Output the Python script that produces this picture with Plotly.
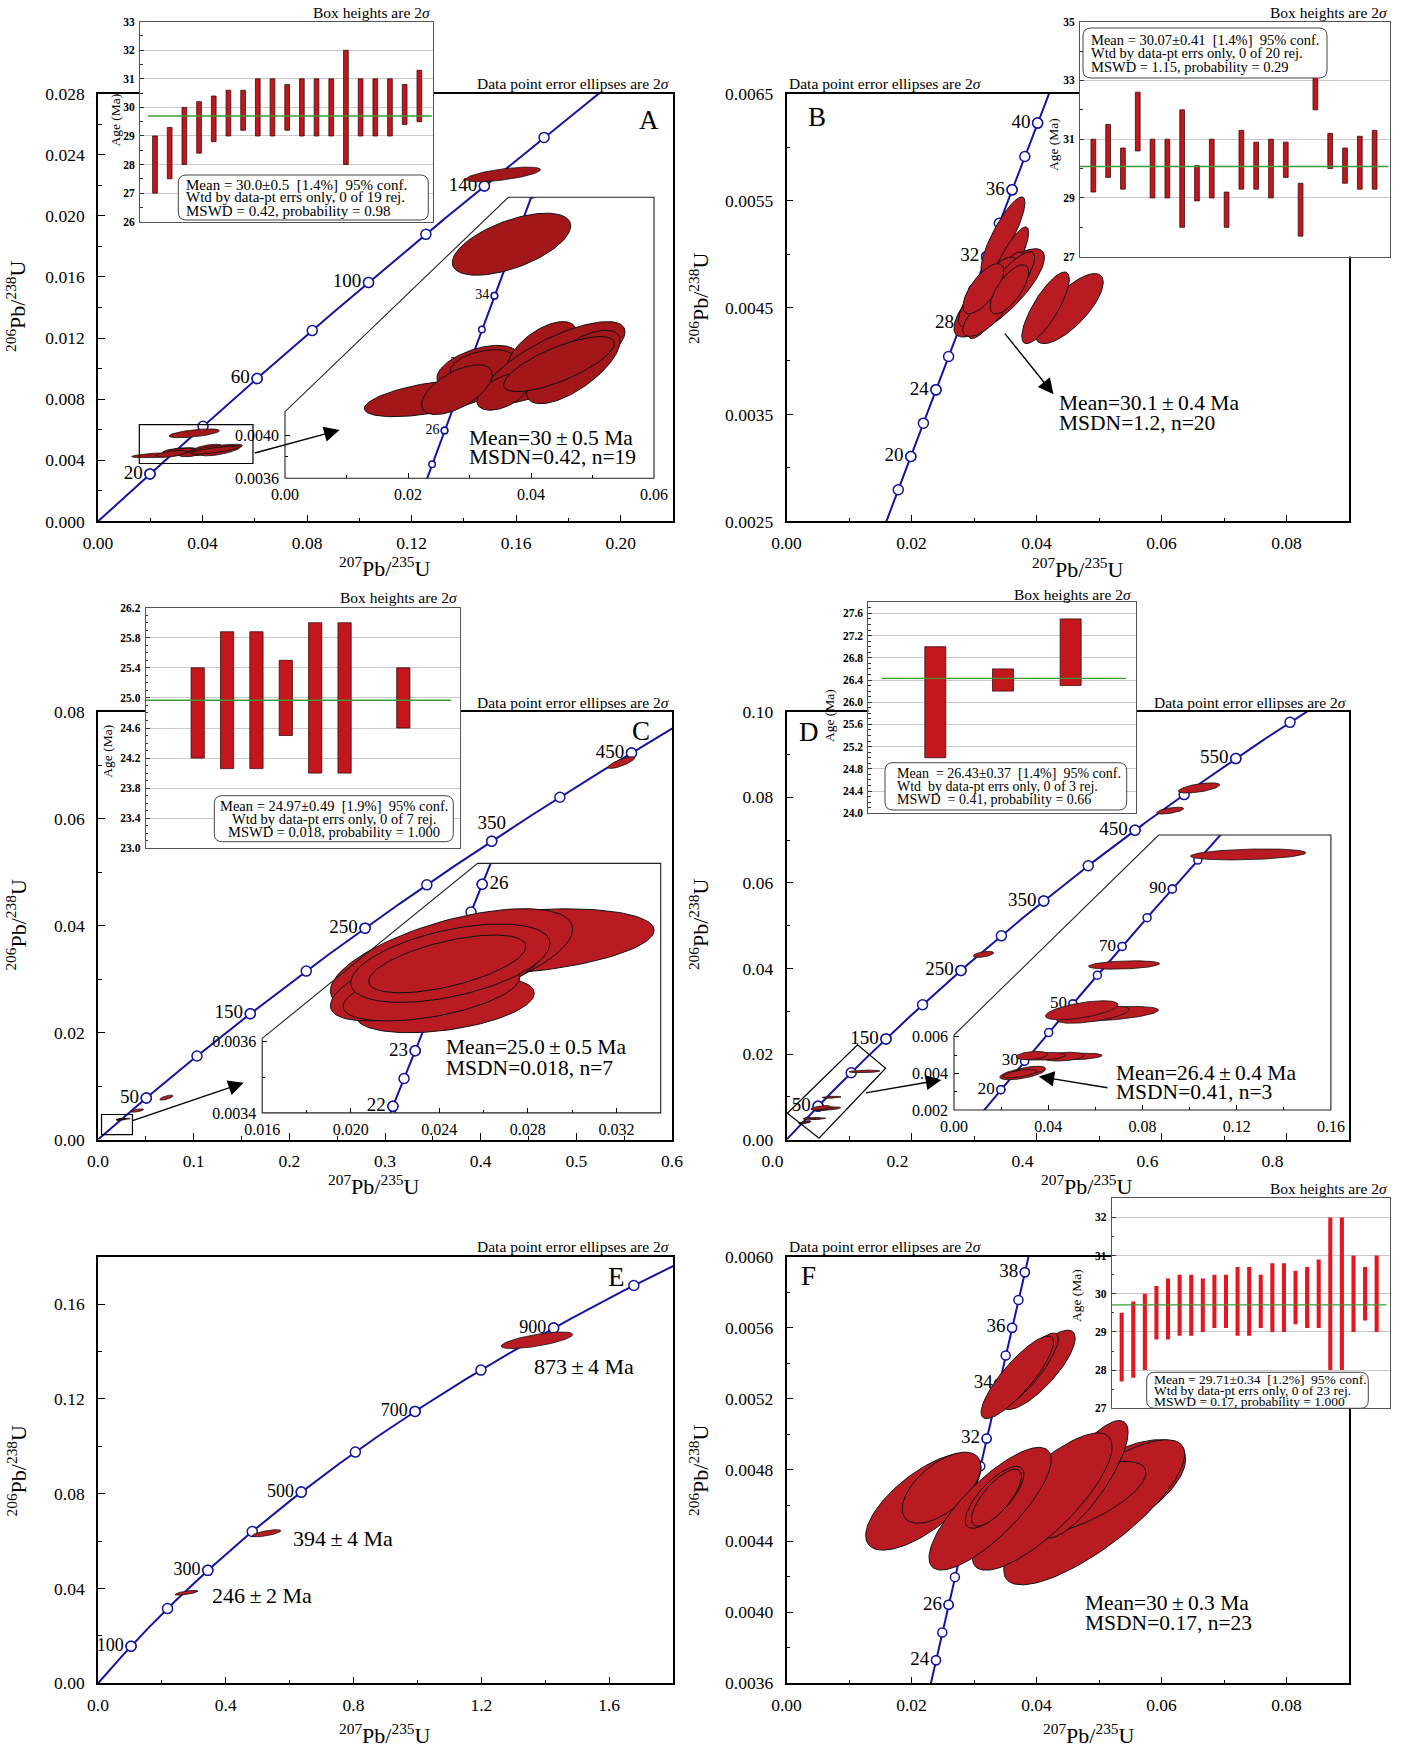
import numpy as np
import plotly.graph_objects as go

W, H = 1407, 1747
SERIF = "Liberation Serif"
BLUE = "#1414a0"
RED = "#b81c22"
RED_A = "#a3161a"
BAR_RED = "#c4161d"
BAR_RED_F = "#e3171f"
GRID = "#c8c8c8"
GREEN = "#3d9a36"
FRAME = "#555555"
TS = "\u2009"  # thin space around the ± sign

LAMBDA238 = 1.55125e-4   # 1/Ma
LAMBDA235 = 9.8485e-4    # 1/Ma

# ---------------- data ----------------
# concordia age marks (Ma) and labelled ages
A_marks = [20, 40, 60, 80, 100, 120, 140, 160]
A_labels = [20, 60, 100, 140]
A_zoom_marks = [24, 26, 28, 30, 32, 34, 36, 38, 40]
A_zoom_labels = [26, 30, 34, 38]
B_marks = [18, 20, 22, 24, 26, 28, 30, 32, 34, 36, 38, 40]
B_labels = [20, 24, 28, 32, 36, 40]
C_marks = [50, 100, 150, 200, 250, 300, 350, 400, 450]
C_labels = [50, 150, 250, 350, 450]
C_zoom_marks = [22, 22.5, 23, 23.5, 24, 24.5, 25, 25.5, 26]
C_zoom_labels = [22, 23, 24, 25, 26]
D_marks = [50, 100, 150, 200, 250, 300, 350, 400, 450, 500, 550, 600]
D_labels = [50, 150, 250, 350, 450, 550]
D_zoom_marks = [20, 30, 40, 50, 60, 70, 80, 90, 100]
D_zoom_labels = [20, 30, 50, 70, 90]
E_marks = [100, 200, 300, 400, 500, 600, 700, 800, 900, 1000]
E_labels = [100, 300, 500, 700, 900]
F_marks = [24, 25, 26, 27, 28, 29, 30, 31, 32, 33, 34, 35, 36, 37, 38]
F_labels = [24, 26, 28, 30, 32, 34, 36, 38]

# error ellipses: (207Pb/235U, 2s half-width, 206Pb/238U, 2s half-height, rho)
A_ellipses = [
    (0.02345, 0.01055, 0.00434, 0.00017, 0.55),
    (0.03130, 0.00660, 0.00463, 0.00020, 0.50),
    (0.03206, 0.00520, 0.00465, 0.00014, 0.40),
    (0.04176, 0.00570, 0.00478, 0.00027, 0.60),
    (0.04385, 0.01144, 0.00467, 0.00038, 0.75),
    (0.04688, 0.00760, 0.00463, 0.00034, 0.70),
    (0.03550, 0.00430, 0.00440, 0.00017, 0.50),
    (0.02795, 0.00575, 0.00442, 0.00023, 0.60),
    (0.04455, 0.00900, 0.004657, 0.000255, 0.75),
    (0.03683, 0.00963, 0.005766, 0.000287, 0.59),
]
A_old = [(0.1550, 0.0143, 0.02271, 0.00048, 0.65)]

B_ellipses = [
    (0.04525, 0.00543, 0.00449, 0.000328, 0.75),
    (0.04145, 0.00380, 0.004497, 0.000335, 0.80),
    (0.03464, 0.00351, 0.005176, 0.000358, 0.85),
    (0.03548, 0.00326, 0.00491, 0.000343, 0.85),
    (0.03403, 0.00724, 0.004637, 0.000413, 0.80),
    (0.03349, 0.00453, 0.004614, 0.000405, 0.85),
    (0.03222, 0.00470, 0.004645, 0.000327, 0.80),
    (0.03470, 0.00500, 0.00466, 0.00036, 0.85),
    (0.03180, 0.00360, 0.00443, 0.00020, 0.70),
    (0.03150, 0.00326, 0.004676, 0.000234, 0.70),
    (0.03566, 0.00308, 0.00467, 0.00023, 0.70),
]

C_ellipses = [
    (0.02760, 0.00610, 0.00388, 0.0000925, 0.35),
    (0.02455, 0.00547, 0.003829, 0.000144, 0.60),
    (0.02426, 0.00403, 0.003704, 0.000079, 0.40),
    (0.02393, 0.00485, 0.003781, 0.000123, 0.65),
    (0.02364, 0.00399, 0.003739, 0.000081, 0.50),
    (0.02450, 0.00450, 0.00382, 0.00011, 0.50),
    (0.02436, 0.00355, 0.003818, 0.000081, 0.60),
]
C_old = [(0.547, 0.014, 0.0705, 0.0011, 0.8),
         (0.041, 0.0065, 0.00544, 0.00031, 0.6),
         (0.0715, 0.007, 0.00785, 0.00047, 0.7)]

D_ellipses = [
    (0.1249, 0.0245, 0.01594, 0.00030, 0.3),
    (0.0722, 0.0151, 0.00991, 0.00023, 0.3),
    (0.0662, 0.0206, 0.00725, 0.00040, 0.5),
    (0.0590, 0.0154, 0.00720, 0.00047, 0.6),
    (0.0542, 0.0154, 0.00744, 0.00052, 0.6),
    (0.0528, 0.0101, 0.00492, 0.00018, 0.3),
    (0.0465, 0.0087, 0.00491, 0.00024, 0.3),
    (0.0383, 0.0091, 0.00493, 0.00021, 0.3),
    (0.0331, 0.0067, 0.00497, 0.00023, 0.3),
    (0.0291, 0.0097, 0.00400, 0.00035, 0.6),
    (0.0321, 0.0067, 0.00416, 0.00023, 0.5),
    (0.0279, 0.0072, 0.00398, 0.00023, 0.6),
]
D_old = [(0.660, 0.033, 0.0822, 0.0012, 0.6),
         (0.6138, 0.0217, 0.0769, 0.0008, 0.6),
         (0.3152, 0.0163, 0.0433, 0.0007, 0.5)]

E_ellipses = [(1.374, 0.112, 0.1447, 0.0035, 0.7),
              (0.5276, 0.0448, 0.0633, 0.0015, 0.7),
              (0.277, 0.036, 0.0382, 0.0010, 0.7)]
E_ages = ["873" + TS + "±" + TS + "4 Ma", "394" + TS + "±" + TS + "4 Ma", "246" + TS + "±" + TS + "2 Ma"]

F_ellipses = [
    (0.04029, 0.00590, 0.005363, 0.000223, 0.80),
    (0.03850, 0.00500, 0.005360, 0.000210, 0.85),
    (0.03692, 0.00579, 0.005321, 0.000232, 0.85),
    (0.05329, 0.01057, 0.004697, 0.000273, 0.60),
    (0.04923, 0.01448, 0.004562, 0.000408, 0.80),
    (0.04650, 0.01100, 0.004636, 0.000212, 0.70),
    (0.04760, 0.00706, 0.004747, 0.000331, 0.80),
    (0.02190, 0.00923, 0.004622, 0.000273, 0.70),
    (0.02480, 0.00630, 0.004700, 0.000200, 0.60),
    (0.04090, 0.01120, 0.004622, 0.000386, 0.80),
    (0.03258, 0.00978, 0.004582, 0.000345, 0.80),
    (0.03330, 0.00470, 0.004646, 0.000174, 0.75),
    (0.03360, 0.00400, 0.004644, 0.000160, 0.75),
]

# weighted-mean age boxes (Ma)
A_low = [27.0, 27.5, 28.0, 28.4, 28.8, 29.0, 29.2, 29.0, 29.0, 29.2, 29.0, 29.0, 29.0, 28.0, 29.0, 29.0, 29.0, 29.4, 29.5]
A_high = [29.0, 29.3, 30.0, 30.2, 30.4, 30.6, 30.6, 31.0, 31.0, 30.8, 31.0, 31.0, 31.0, 32.0, 31.0, 31.0, 31.0, 30.8, 31.3]
A_mean = 29.7
B_low = [29.2, 29.7, 29.3, 30.6, 29.0, 29.0, 28.0, 28.9, 29.0, 28.0, 29.3, 29.3, 29.0, 29.7, 27.7, 32.0, 30.0, 29.5, 29.3, 29.3]
B_high = [31.0, 31.5, 30.7, 32.6, 31.0, 31.0, 32.0, 30.1, 31.0, 29.2, 31.3, 30.9, 31.0, 30.9, 29.5, 34.0, 31.2, 30.7, 31.1, 31.3]
B_mean = 30.07
C_pos = [1, 2, 3, 4, 5, 6, 8]
C_low = [24.2, 24.06, 24.06, 24.5, 24.0, 24.0, 24.6]
C_high = [25.4, 25.88, 25.88, 25.5, 26.0, 26.0, 25.4]
C_mean = 24.97
D_low = [25.0, 26.2, 26.3]
D_high = [27.0, 26.6, 27.5]
D_mean = 26.43
F_low = [27.7, 27.8, 28.0, 28.8, 28.8, 28.9, 28.9, 29.0, 29.1, 29.1, 28.9, 28.9, 29.1, 29.0, 29.0, 29.2, 29.1, 29.1, 28.0, 28.0, 29.0, 29.3, 29.0]
F_high = [29.5, 29.8, 30.0, 30.2, 30.4, 30.5, 30.5, 30.4, 30.5, 30.5, 30.7, 30.7, 30.5, 30.8, 30.8, 30.6, 30.7, 30.9, 32.0, 32.0, 31.0, 30.7, 31.0]
F_mean = 29.71

NB = "\u00a0\u00a0"
A_stats = ["Mean = 30.0±0.5" + NB + "[1.4%]" + NB + "95% conf.", "Wtd by data-pt errs only, 0 of 19 rej.", "MSWD = 0.42, probability = 0.98"]
B_stats = ["Mean = 30.07±0.41" + NB + "[1.4%]" + NB + "95% conf.", "Wtd by data-pt errs only, 0 of 20 rej.", "MSWD = 1.15, probability = 0.29"]
C_stats = ["Mean = 24.97±0.49" + NB + "[1.9%]" + NB + "95% conf.", "Wtd by data-pt errs only, 0 of 7 rej.", "MSWD = 0.018, probability = 1.000"]
D_stats = ["Mean\u00a0 = 26.43±0.37" + NB + "[1.4%]" + NB + "95% conf.", "Wtd\u00a0 by data-pt errs only, 0 of 3 rej.", "MSWD\u00a0 = 0.41, probability = 0.66"]
F_stats = ["Mean = 29.71±0.34" + NB + "[1.2%]" + NB + "95% conf.", "Wtd by data-pt errs only, 0 of 23 rej.", "MSWD = 0.17, probability = 1.000"]

PM = TS + "±" + TS
A_result = ["Mean=30" + PM + "0.5 Ma", "MSDN=0.42, n=19"]
B_result = ["Mean=30.1" + PM + "0.4 Ma", "MSDN=1.2, n=20"]
C_result = ["Mean=25.0" + PM + "0.5 Ma", "MSDN=0.018, n=7"]
D_result = ["Mean=26.4" + PM + "0.4 Ma", "MSDN=0.41, n=3"]
F_result = ["Mean=30" + PM + "0.3 Ma", "MSDN=0.17, n=23"]


# ---------------- helpers ----------------
def conc(t):
    t = np.asarray(t, float)
    return np.exp(LAMBDA235 * t) - 1, np.exp(LAMBDA238 * t) - 1


def ellipse(e, n=120):
    cx, sx, cy, sy, rho = e
    th = np.linspace(0, 2 * np.pi, n)
    return cx + sx * np.cos(th), cy + sy * (rho * np.cos(th) + np.sqrt(1 - rho ** 2) * np.sin(th))


def names(i):
    s = "" if i == 1 else str(i)
    return "x" + s, "y" + s, "xaxis" + s, "yaxis" + s


def dom(box):
    x0, x1, y0, y1 = box
    return [x0 / W, x1 / W], [1 - y1 / H, 1 - y0 / H]


fig = go.Figure()
layout = {}
anns = []
shapes = []


def pad(r):
    e = (r[1] - r[0]) * 1e-6
    return [r[0] - e, r[1] + e]


def main_axes(i, box, xr, yr, xd, xm, xf, yd, ym, yf, y0=0.0, xshift=0):
    xn, yn, xk, yk = names(i)
    xdom, ydom = dom(box)
    common = dict(showline=True, linecolor="black", linewidth=1.6, mirror=True,
                  ticks="inside", ticklen=7, tickwidth=1.3, tickcolor="black",
                  showgrid=False, zeroline=False, automargin=False,
                  tickfont=dict(family=SERIF, size=17.5, color="black"))
    layout[xk] = dict(common, domain=xdom, range=pad(xr), anchor=yn, tick0=0, dtick=xd,
                      tickformat=xf, ticklabelstandoff=5, ticklabelshift=xshift,
                      minor=dict(tick0=0, dtick=xm, ticks="inside", ticklen=4, tickcolor="black"))
    layout[yk] = dict(common, domain=ydom, range=pad(yr), anchor=xn, tick0=y0, dtick=yd,
                      tickformat=yf, ticklabelstandoff=8,
                      minor=dict(tick0=y0, dtick=ym, ticks="inside", ticklen=4, tickcolor="black"))


def zoom_axes(i, box, xr, yr, xt, xmn, xf, yt, ymn, yf):
    xn, yn, xk, yk = names(i)
    xdom, ydom = dom(box)
    common = dict(showline=False, ticks="inside", ticklen=5, tickwidth=1, tickcolor="black",
                  showgrid=False, zeroline=False, ticklabelstandoff=5, automargin=False,
                  tickfont=dict(family=SERIF, size=16, color="black"))
    layout[xk] = dict(common, domain=xdom, range=xr, anchor=yn, tickvals=xt, tickformat=xf,
                      minor=dict(tickvals=xmn, ticks="inside", ticklen=3, tickcolor="black"))
    layout[yk] = dict(common, domain=ydom, range=yr, anchor=xn, tickvals=yt, tickformat=yf,
                      minor=dict(tickvals=ymn, ticks="inside", ticklen=3, tickcolor="black"))


def bar_axes(i, box, xr, yr, dtick, tick0, mdt, fmt):
    xn, yn, xk, yk = names(i)
    xdom, ydom = dom(box)
    layout[xk] = dict(domain=xdom, range=xr, anchor=yn, showline=True, linecolor=FRAME,
                      linewidth=1, mirror=True, ticks="", showticklabels=False,
                      showgrid=False, zeroline=False, automargin=False)
    layout[yk] = dict(domain=ydom, range=pad(yr), anchor=xn, showline=True, linecolor=FRAME,
                      linewidth=1, mirror=True, ticks="inside", ticklen=4, tickcolor="#333",
                      dtick=dtick, tick0=tick0, tickformat=fmt, showgrid=True, gridcolor=GRID,
                      gridwidth=1, zeroline=False, ticklabelstandoff=2, automargin=False,
                      minor=dict(dtick=mdt, tick0=tick0, ticks="inside", ticklen=2.5,
                                 tickcolor="#333", showgrid=False),
                      tickfont=dict(family=SERIF, size=11.5, color="black", weight="bold"))
    shapes.append(dict(type="rect", xref=xn, yref=yn, x0=xr[0], x1=xr[1], y0=yr[0], y1=yr[1],
                       fillcolor="white", line=dict(width=0), layer="below"))


def add_concordia(i, t0, t1, marks, labels, msize, lsize, label_pos=None):
    label_pos = label_pos or {}
    xn, yn, _, _ = names(i)
    x, y = conc(np.linspace(t0, t1, 600))
    fig.add_trace(go.Scatter(x=x, y=y, mode="lines", line=dict(color=BLUE, width=2),
                             xaxis=xn, yaxis=yn, hoverinfo="skip"))
    mk = dict(symbol="circle", size=msize, color="white", line=dict(color=BLUE, width=1.5))
    mx, my = conc(marks)
    fig.add_trace(go.Scatter(x=mx, y=my, mode="markers", marker=mk,
                             xaxis=xn, yaxis=yn, hoverinfo="skip"))
    lx, ly = conc(labels)
    pos = [label_pos.get(m, "middle left") for m in labels]
    fig.add_trace(go.Scatter(x=lx, y=ly, mode="markers+text", text=[str(m) for m in labels],
                             textposition=pos, marker=mk,
                             textfont=dict(family=SERIF, size=lsize, color="black"),
                             xaxis=xn, yaxis=yn, hoverinfo="skip"))


def add_ellipses(i, ells, color, lw=1.0):
    xn, yn, _, _ = names(i)
    for e in ells:
        x, y = ellipse(e)
        fig.add_trace(go.Scatter(x=x, y=y, mode="lines", fill="toself", fillcolor=color,
                                 line=dict(color="#111", width=lw), xaxis=xn, yaxis=yn,
                                 hoverinfo="skip"))


def add_bars(i, pos, low, high, mean, width, color, edge, ew, xr, lpad, rpad):
    xn, yn, _, _ = names(i)
    fig.add_trace(go.Bar(x=pos, y=[h - l for l, h in zip(low, high)], base=low, width=width,
                         marker=dict(color=color, line=dict(color=edge, width=ew)),
                         xaxis=xn, yaxis=yn, hoverinfo="skip"))
    fig.add_trace(go.Scatter(x=[xr[0] + lpad, xr[1] - rpad], y=[mean, mean], mode="lines",
                             line=dict(color=GREEN, width=1.4), xaxis=xn, yaxis=yn,
                             hoverinfo="skip"))


def text(x, y, s, size, xa="left", ya="middle", angle=0, weight="normal"):
    anns.append(dict(x=x / W, y=1 - y / H, xref="paper", yref="paper", text=s, showarrow=False,
                     xanchor=xa, yanchor=ya, textangle=angle,
                     font=dict(family=SERIF, size=size, color="black", weight=weight)))


def arrow(i, tail, head):
    xn, yn, _, _ = names(i)
    anns.append(dict(x=head[0], y=head[1], ax=tail[0], ay=tail[1], xref=xn, yref=yn,
                     axref=xn, ayref=yn, showarrow=True, arrowhead=2, arrowsize=2.2,
                     arrowwidth=1.4, arrowcolor="black", text="", standoff=0))


def rounded(x0, y0, x1, y1, r=8):
    X = lambda v: v / W
    Y = lambda v: 1 - v / H
    return (f"M {X(x0 + r)},{Y(y0)} L {X(x1 - r)},{Y(y0)} Q {X(x1)},{Y(y0)} {X(x1)},{Y(y0 + r)} "
            f"L {X(x1)},{Y(y1 - r)} Q {X(x1)},{Y(y1)} {X(x1 - r)},{Y(y1)} L {X(x0 + r)},{Y(y1)} "
            f"Q {X(x0)},{Y(y1)} {X(x0)},{Y(y1 - r)} L {X(x0)},{Y(y0 + r)} "
            f"Q {X(x0)},{Y(y0)} {X(x0 + r)},{Y(y0)} Z")


def stats_box(box, lines, size, ys, xtext, align="left"):
    x0, y0, x1, y1 = box
    shapes.append(dict(type="path", xref="paper", yref="paper", path=rounded(x0, y0, x1, y1),
                       fillcolor="white", line=dict(color="#444", width=1), layer="above"))
    for s, yy in zip(lines, ys):
        text(xtext, yy, s, size, xa=("center" if align == "center" else "left"))


def zoom_frame(i, box, xr, yr, poly):
    """poly: data-coordinate corners of the magnified window"""
    xn, yn, _, _ = names(i)
    path = "M " + " L ".join(f"{px},{py}" for px, py in poly) + " Z"
    shapes.append(dict(type="path", xref=xn, yref=yn, path=path, fillcolor="white",
                       line=dict(width=0), layer="below"))
    bx0, bx1, by0, by1 = box
    pts = []
    for px, py in poly:
        fx = bx0 + (px - xr[0]) / (xr[1] - xr[0]) * (bx1 - bx0)
        fy = by1 - (py - yr[0]) / (yr[1] - yr[0]) * (by1 - by0)
        pts.append(f"{fx / W},{1 - fy / H}")
    shapes.append(dict(type="path", xref="paper", yref="paper", path="M " + " L ".join(pts) + " Z",
                       line=dict(color="#222", width=1.1), layer="above"))


XT = "<sup>207</sup>Pb/<sup>235</sup>U"
YT = "<sup>206</sup>Pb/<sup>238</sup>U"
ELL = "Data point error ellipses are 2<i>σ</i>"
BOX = "Box heights are 2<i>σ</i>"

# ---------------- main panels ----------------
boxA = (98, 673, 93.6, 521.4)
boxB = (786.5, 1349, 93.6, 521.4)
boxC = (98, 672, 711.8, 1139.6)
boxD = (786.5, 1349, 711.8, 1139.6)
boxE = (98, 673, 1256.6, 1683.3)
boxF = (786.5, 1349, 1256.6, 1683.3)

main_axes(1, boxA, [0, 0.22], [0, 0.028], 0.04, 0.02, ".2f", 0.004, 0.002, ".3f")
main_axes(2, boxB, [0, 0.09], [0.0025, 0.0065], 0.02, 0.01, ".2f", 0.001, 0.0005, ".4f", y0=0.0025)
main_axes(3, boxC, [0, 0.6], [0, 0.08], 0.1, 0.05, ".1f", 0.02, 0.01, ".2f")
main_axes(4, boxD, [0, 0.9], [0, 0.1], 0.2, 0.1, ".1f", 0.02, 0.01, ".2f", xshift=-14)
main_axes(5, boxE, [0, 1.8], [0, 0.18], 0.4, 0.2, ".1f", 0.04, 0.02, ".2f")
main_axes(6, boxF, [0, 0.09], [0.0036, 0.006], 0.02, 0.01, ".2f", 0.0004, 0.0002, ".4f")

add_concordia(1, 0, 200, A_marks, A_labels, 10, 19)
add_ellipses(1, A_old + A_ellipses, RED_A, 0.8)
add_concordia(2, 12, 46, B_marks, B_labels, 10, 19)
add_ellipses(2, B_ellipses, RED, 1.0)
add_concordia(3, 0, 490, C_marks, C_labels, 10, 19, label_pos={350: "top center"})
add_ellipses(3, C_old + C_ellipses, RED, 0.8)
add_concordia(4, 0, 660, D_marks, D_labels, 10, 19)
add_ellipses(4, D_old + D_ellipses, RED, 0.8)
add_concordia(5, 0, 1100, E_marks, E_labels, 10, 18)
add_ellipses(5, E_ellipses, RED, 0.8)
add_concordia(6, 20, 42, F_marks, F_labels, 9, 19)
add_ellipses(6, F_ellipses, RED, 1.0)

# ---------------- magnified windows ----------------
boxA7 = (285, 654, 197.3, 478.3)
boxC8 = (262.2, 660.7, 863.4, 1112.9)
boxD9 = (954, 1330.9, 835, 1110)
zA = ([0, 0.06], [0.0036, 0.0062])
zC = ([0.016, 0.034], [0.0034, 0.0041])
zD = ([0, 0.16], [0.002, 0.017])
zoom_axes(7, boxA7, zA[0], zA[1], [0, 0.02, 0.04, 0.06], [0.01, 0.03, 0.05], ".2f",
          [0.0036, 0.0040], [0.0038], ".4f")
zoom_axes(8, boxC8, zC[0], zC[1], [0.016, 0.020, 0.024, 0.028, 0.032],
          [0.018, 0.022, 0.026, 0.030, 0.034], ".3f", [0.0034, 0.0036], [0.0035], ".4f")
zoom_axes(9, boxD9, zD[0], zD[1], [0, 0.04, 0.08, 0.12, 0.16], [0.02, 0.06, 0.10, 0.14], ".2f",
          [0.002, 0.004, 0.006], [0.003, 0.005], ".3f")
zoom_frame(7, boxA7, zA[0], zA[1], [(0, 0.0036), (0, 0.004217), (0.03631, 0.0062), (0.06, 0.0062), (0.06, 0.0036)])
zoom_frame(8, boxC8, zC[0], zC[1], [(0.016, 0.0034), (0.016, 0.003609), (0.02573, 0.0041), (0.034, 0.0041), (0.034, 0.0034)])
zoom_frame(9, boxD9, zD[0], zD[1], [(0, 0.002), (0, 0.00609), (0.0869, 0.017), (0.16, 0.017), (0.16, 0.002)])

add_concordia(7, 18, 45, A_zoom_marks, A_zoom_labels, 6.5, 14)
add_ellipses(7, A_ellipses, RED_A, 1.0)
add_concordia(8, 20, 28, C_zoom_marks, C_zoom_labels, 10, 19, label_pos={26: "middle right"})
add_ellipses(8, C_ellipses, RED, 1.0)
add_concordia(9, 8, 120, D_zoom_marks, D_zoom_labels, 8, 17)
add_ellipses(9, D_ellipses, RED, 0.8)

# ---------------- weighted-mean insets ----------------
boxA10 = (140, 433.3, 21.7, 221.7)
boxB11 = (1080, 1390, 21.7, 256.7)
boxC12 = (145.7, 460, 607.7, 848.3)
boxD13 = (868.3, 1136.3, 601.7, 813.3)
boxF14 = (1111.7, 1390, 1198.3, 1408.3)
bA = [-0.02, 19.95]
bB = [0.1, 21.04]
bC = [-0.77, 9.93]
bD = [0.01, 3.97]
bF = [0.14, 24.15]
bar_axes(10, boxA10, bA, [26, 33], 1, 26, 0.5, "d")
bar_axes(11, boxB11, bB, [27, 35], 2, 27, 1, "d")
bar_axes(12, boxC12, bC, [23.0, 26.2], 0.4, 23.0, 0.1, ".1f")
bar_axes(13, boxD13, bD, [24.0, 27.81], 0.4, 24.0, 0.1, ".1f")
bar_axes(14, boxF14, bF, [27, 32.5], 1, 27, 0.5, "d")

add_bars(10, list(range(1, len(A_low) + 1)), A_low, A_high, A_mean, 0.32, BAR_RED, "#3a0c0c", 0.8, bA, 0.55, 0.1)
add_bars(11, list(range(1, len(B_low) + 1)), B_low, B_high, B_mean, 0.32, BAR_RED, "#3a0c0c", 0.8, bB, 0.0, 0.1)
add_bars(12, C_pos, C_low, C_high, C_mean, 0.45, BAR_RED, "#3a0c0c", 0.8, bC, 0.0, 0.3)
add_bars(13, [1, 2, 3], D_low, D_high, D_mean, 0.31, BAR_RED, "#3a0c0c", 0.8, bD, 0.2, 0.15)
add_bars(14, list(range(1, len(F_low) + 1)), F_low, F_high, F_mean, 0.35, BAR_RED_F, BAR_RED_F, 0, bF, 0.0, 0.3)

stats_box((178.3, 175, 428.3, 220), A_stats, 15, [184.5, 197.5, 210.5], 184)
stats_box((1083, 28, 1327, 78), B_stats, 14.5, [39.5, 53.3, 67], 1089)
stats_box((214.3, 795.7, 453.3, 841.7), C_stats, 14.5, [805.5, 818.5, 831.5], 333.8, align="center")
stats_box((885, 762.7, 1126.7, 810), D_stats, 14, [773.5, 786.7, 799.5], 895)
stats_box((1146.7, 1372.3, 1368.3, 1408.3), F_stats, 13.5, [1379, 1390.5, 1401.5], 1152)

text(433.3, 13, BOX, 15.5, xa="right")
text(1390, 12, BOX, 15.5, xa="right")
text(460, 597, BOX, 15.5, xa="right")
text(1134, 594, BOX, 15.5, xa="right")
text(1390, 1188, BOX, 15.5, xa="right")
text(115, 120.5, "Age (Ma)", 13.5, xa="center", angle=-90)
text(1053, 145, "Age (Ma)", 13.5, xa="center", angle=-90)
text(108, 751.7, "Age (Ma)", 13.5, xa="center", angle=-90)
text(829, 716, "Age (Ma)", 13.5, xa="center", angle=-90)
text(1076, 1296, "Age (Ma)", 13.5, xa="center", angle=-90)

# ---------------- annotations on main panels ----------------
text(672, 84, ELL, 15.5, xa="right")
text(786.5, 84, ELL, 15.5)
text(672, 702.7, ELL, 15.5, xa="right")
text(1349, 702.7, ELL, 15.5, xa="right")
text(672, 1246, ELL, 15.5, xa="right")
text(786.5, 1246.5, ELL, 15.5)

text(648.5, 120, "A", 27, xa="center")
text(816.6, 117, "B", 27, xa="center")
text(640.5, 731, "C", 27, xa="center")
text(808.7, 732, "D", 27, xa="center")
text(616.5, 1277, "E", 27, xa="center")
text(808.2, 1276, "F", 27, xa="center")

for (xx, y1, y2), res in zip([(467, 438.3, 457.3), (1056.5, 403.3, 423.3), (444, 1047, 1067.5),
                              (1113.5, 1072.7, 1091.7), (1083, 1603, 1622.5)],
                             [A_result, B_result, C_result, D_result, F_result]):
    text(xx, y1, res[0], 21.5)
    text(xx, y2, res[1], 21.5)

for (xx, yy), s in zip([(583.7, 1366.7), (342.5, 1538), (261.7, 1595.5)], E_ages):
    text(xx, yy, s, 22, xa="center")

for xx, yy in [(385, 567), (1078, 568), (374, 1185), (1087, 1185), (385, 1734), (1089, 1734)]:
    text(xx, yy, XT, 22, xa="center")
for xx, yy in [(16, 306), (698.5, 298.6), (16, 924.6), (698.5, 924.6), (16, 1470.5), (698.5, 1470.5)]:
    text(xx, yy, YT, 22, xa="center", angle=-90)

# selection boxes on main panels and arrows
shapes.append(dict(type="rect", xref="x", yref="y", x0=0.0158, x1=0.0593, y0=0.00379, y1=0.00634,
                   line=dict(color="black", width=1.2), layer="above"))
shapes.append(dict(type="rect", xref="x3", yref="y3", x0=0.0037, x1=0.036, y0=0.00094, y1=0.00469,
                   line=dict(color="black", width=1.2), layer="above"))
shapes.append(dict(type="path", xref="x4", yref="y4",
                   path="M 0.0014,0.00617 L 0.1137,0.02214 L 0.1586,0.01669 L 0.0521,0.00033 Z",
                   line=dict(color="black", width=1.2), layer="above"))
arrow(1, (0.0594, 0.00445), (0.0924, 0.00598))
arrow(2, (0.03475, 0.00427), (0.04272, 0.00369))
arrow(3, (0.0346, 0.00344), (0.1523, 0.01063))
arrow(4, (0.1245, 0.01085), (0.2476, 0.01396))
arrow(9, (0.0658, 0.0032), (0.036, 0.00383))

layout.update(dict(width=W, height=H, margin=dict(l=0, r=0, t=0, b=0, autoexpand=False),
                   showlegend=False, paper_bgcolor="white", plot_bgcolor="rgba(0,0,0,0)",
                   annotations=anns, shapes=shapes, barmode="overlay"))
fig.update_layout(**layout)
fig.write_html("out.html")
